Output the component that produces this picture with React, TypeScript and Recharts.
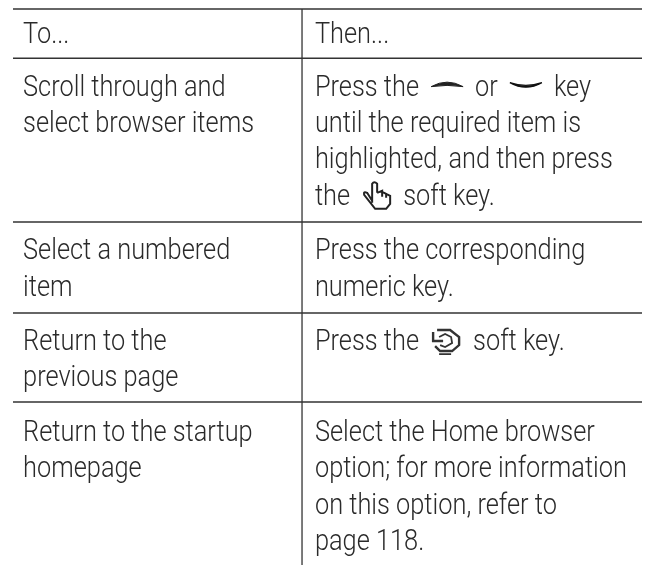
import React from 'react';
import { ComposedChart, Scatter, XAxis, YAxis, ReferenceLine } from 'recharts';

// each row: the lines of the left cell and of the right cell, {name} is an inline key icon
const headers = ['To...', 'Then...'];
const leftCells = [
  ['Scroll through and', 'select browser items'],
  ['Select a numbered', 'item'],
  ['Return to the', 'previous page'],
  ['Return to the startup', 'homepage'],
];
const rightCells = [
  ['Press the {left} or {right} key', 'until the required item is', 'highlighted, and then press', 'the {hand} soft key.'],
  ['Press the corresponding', 'numeric key.'],
  ['Press the {back} soft key.'],
  ['Select the Home browser', 'option; for more information', 'on this option, refer to', 'page 118.'],
];
const rowLines = [4, 2, 2, 4];
const rowPads = [0.5, 0.5, 0.45, 0.5];
const rowNudge = [0.03, 0.03, 0.02, 0.06];

const FONT = 'Roboto, "Liberation Sans", sans-serif';
const FONT_SIZE = 29;
const SCALE_X = 0.875;
const INK = '#2a2a2a';
const ICON_WIDTH: Record<string, number> = { left: 32, right: 32, hand: 29, back: 30 };

const WIDTH = 646;
const HEIGHT = 565;
const LINE = 36.4; // px per text line
const HEADER_UNITS = 1.35;

// row boundaries in line units, counted from the top rule
const boundaries: number[] = [0, HEADER_UNITS];
rowLines.forEach((n, i) => boundaries.push(boundaries[boundaries.length - 1] + n + rowPads[i]));

type Point = { col: number; line: number; text: string };

const COL_LEFT = 1.6;
const COL_RIGHT = 48;
const COL_RULE = 45.95;

const points: Point[] = [];
headers.forEach((text, i) => points.push({ col: i === 0 ? COL_LEFT : COL_RIGHT, line: 0.94, text }));
leftCells.forEach((lines, r) => lines.forEach((text, l) => points.push({ col: COL_LEFT, line: boundaries[r + 1] + 1 + rowNudge[r] + l, text })));
rightCells.forEach((lines, r) => lines.forEach((text, l) => points.push({ col: COL_RIGHT, line: boundaries[r + 1] + 1 + rowNudge[r] + l, text })));

const ctx = document.createElement('canvas').getContext('2d');
const measure = (s: string) => {
  if (!ctx) return s.length * 10;
  ctx.font = `300 ${FONT_SIZE}px ${FONT}`;
  return ctx.measureText(s).width * SCALE_X;
};

const KeyIcon = ({ name, x, y }: { name: string; x: number; y: number }) => {
  if (name === 'left') {
    return <path d={`M${x} ${y - 9} Q${x + 16} ${y - 18} ${x + 32} ${y - 9} Q${x + 16} ${y - 11.5} ${x} ${y - 9} Z`} fill="#222" stroke="#222" strokeWidth={1} />;
  }
  if (name === 'right') {
    return <path d={`M${x} ${y - 13} Q${x + 16} ${y - 4} ${x + 32} ${y - 13} Q${x + 16} ${y - 7.5} ${x} ${y - 13} Z`} fill="#111" stroke="#111" strokeWidth={1.2} />;
  }
  if (name === 'hand') {
    return (
      <g transform={`translate(${x} ${y - 24})`} fill="none" stroke="#222" strokeWidth={2}>
        <path d="M10 22 L10 3 Q12 0 15 3 L15 12 M15 12 L20 10 L20 16 M20 11 L24 13 L24 17 M24 13 L28 15 L28 23 L24 28 L13 28 L2 14 Q1 10 5 12 L10 20" />
      </g>
    );
  }
  return (
    <g transform={`translate(${x} ${y - 24})`} fill="none" stroke="#333" strokeWidth={2.4}>
      <path d="M6 4 L19 4 L28 11 L28 19 L21 25 L9 25 L4 20" />
      <path d="M2 6 L2 15 L12 15" />
      <path d="M8 11 L14 8 L20 11 L21 17 L14 21 L9 19" strokeWidth={1.8} />
      <path d="M8 28 L20 28" strokeWidth={1.8} />
    </g>
  );
};

// lays a line out from left to right, icons take their width and a gap either side
const TextMark = (props: any) => {
  const { cx, cy, payload } = props;
  const parts: string[] = payload.text.split(/\{(\w+)\}/);
  const gap = 12;
  let cursor = cx;
  const out: React.ReactNode[] = [];
  parts.forEach((part, i) => {
    if (i % 2 === 1) {
      out.push(<KeyIcon key={i} name={part} x={cursor} y={cy} />);
      cursor += ICON_WIDTH[part] + gap;
    } else {
      const s = part.trim();
      if (!s) return;
      out.push(
        <text key={i} transform={`translate(${cursor} ${cy}) scale(${SCALE_X} 1)`} fontFamily={FONT} fontWeight={300} fontSize={FONT_SIZE} fill={INK}>
          {s}
        </text>
      );
      cursor += measure(s) + gap;
    }
  });
  return <g>{out}</g>;
};

const App = () => (
  <div style={{ position: 'absolute', left: 0, top: 0, width: WIDTH, height: HEIGHT, background: '#fff', filter: 'blur(0.35px)' }}>
    <ComposedChart width={WIDTH} height={HEIGHT} data={points} margin={{ top: 9, right: 4, bottom: 0, left: 13 }}>
      <XAxis type="number" dataKey="col" domain={[0, 100]} hide />
      <YAxis type="number" dataKey="line" domain={[0, (HEIGHT - 9) / LINE]} reversed hide allowDataOverflow />
      {boundaries.map(b => (
        <ReferenceLine key={b} y={b} stroke="#333" strokeWidth={1.5} />
      ))}
      <ReferenceLine x={COL_RULE} stroke="#333" strokeWidth={1.3} />
      <Scatter data={points} dataKey="line" shape={TextMark} isAnimationActive={false} />
    </ComposedChart>
  </div>
);

export default App;
